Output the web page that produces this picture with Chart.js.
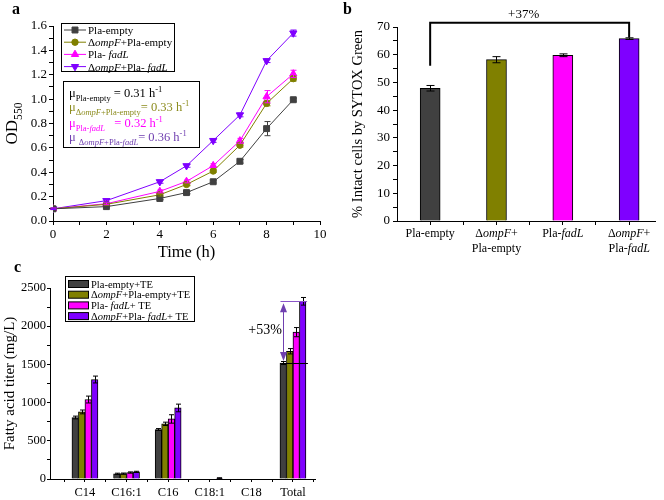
<!DOCTYPE html>
<html>
<head>
<meta charset="utf-8">
<script src="https://cdn.jsdelivr.net/npm/chart.js@4.4.0/dist/chart.umd.min.js"></script>
<style>
  body { margin: 0; background: #fff; }
  #wrap { position: relative; width: 664px; height: 500px; overflow: hidden; }
  canvas { position: absolute; }
</style>
</head>
<body>
<div id="wrap">
  <canvas id="chartA" width="330" height="265" style="left:0;top:0"></canvas>
  <canvas id="chartB" width="334" height="258" style="left:330px;top:0"></canvas>
  <canvas id="chartC" width="400" height="242" style="left:0;top:258px"></canvas>
</div>
<script>
// ---- panel a: growth curves (OD550) ----
const timeH = [0, 2, 4, 5, 6, 7, 8, 9];
const odPlaEmpty  = [0.100, 0.118, 0.185, 0.233, 0.322, 0.490, 0.758, 0.995];
const odOmpfEmpty = [0.100, 0.137, 0.215, 0.300, 0.410, 0.622, 0.965, 1.168];
const odPlaFadl   = [0.100, 0.142, 0.243, 0.325, 0.455, 0.658, 1.020, 1.207];
const odOmpfFadl  = [0.100, 0.167, 0.322, 0.453, 0.660, 0.870, 1.315, 1.542];
const odErrPlaEmpty  = [0.006, 0.008, 0.010, 0.010, 0.010, 0.015, 0.058, 0.012];
const odErrOmpfEmpty = [0.006, 0.008, 0.010, 0.010, 0.012, 0.015, 0.020, 0.020];
const odErrPlaFadl   = [0.006, 0.008, 0.012, 0.012, 0.015, 0.020, 0.050, 0.030];
const odErrOmpfFadl  = [0.006, 0.010, 0.012, 0.012, 0.015, 0.015, 0.015, 0.025];
const growthRates = ['0.31', '0.33', '0.32', '0.36'];

// ---- panel b: SYTOX Green ----
const intactPct = [47.9, 58.2, 59.8, 65.8];
const intactErr = [1.0, 1.1, 0.5, 0.3];
const increaseB = '+37%';

// ---- panel c: fatty acid titers ----
const acids = ['C14', 'C16:1', 'C16', 'C18:1', 'C18', 'Total'];
const titerPlaEmpty  = [805, 68, 648, 0, 0, 1518];
const titerOmpfEmpty = [878, 70, 722, 0, 0, 1672];
const titerPlaFadl   = [1040, 85, 786, 0, 0, 1922];
const titerOmpfFadl  = [1302, 93, 930, 12, 0, 2326];
const titerErrPlaEmpty  = [18, 8, 12, 0, 0, 20];
const titerErrOmpfEmpty = [25, 8, 22, 0, 0, 35];
const titerErrPlaFadl   = [45, 8, 55, 0, 0, 60];
const titerErrOmpfFadl  = [45, 8, 50, 4, 0, 50];
const increaseC = '+53%';

const SERIF = '"Liberation Serif", "Times New Roman", serif';
const GRAY = '#404040', OLIVE = '#808000', MAGENTA = '#ff00ff', VIOLET = '#7f00ff';

Chart.defaults.font.family = SERIF;
Chart.defaults.font.weight = 'normal';
Chart.defaults.color = '#000';

// rich text: segments {t, it, sub, sup, c}
function segFont(s, size) {
  const sz = (s.sub || s.sup) ? size * 0.68 : size;
  return (s.it ? 'italic ' : '') + (s.b ? 'bold ' : '') + sz + 'px ' + SERIF;
}
function richWidth(ctx, segs, size) {
  let w = 0;
  segs.forEach(s => { ctx.font = segFont(s, size); w += ctx.measureText(s.t).width; });
  return w;
}
function drawRich(ctx, segs, x, y, size, color, align) {
  ctx.save();
  ctx.textBaseline = 'alphabetic';
  ctx.textAlign = 'left';
  if (align === 'center') x -= richWidth(ctx, segs, size) / 2;
  segs.forEach(s => {
    ctx.font = segFont(s, size);
    ctx.fillStyle = s.c || color;
    const dy = s.sub ? size * 0.3 : s.sup ? -size * 0.38 : 0;
    ctx.fillText(s.t, x, y + dy);
    x += ctx.measureText(s.t).width;
  });
  ctx.restore();
}
function panelLetter(ctx, letter, x, y) {
  ctx.save();
  ctx.font = 'bold 16px ' + SERIF;
  ctx.fillStyle = '#000';
  ctx.textBaseline = 'alphabetic';
  ctx.fillText(letter, x, y);
  ctx.restore();
}
function frame(ctx, x, y, w, h) {
  ctx.save();
  ctx.strokeStyle = '#000';
  ctx.lineWidth = 1;
  ctx.strokeRect(x + 0.5, y + 0.5, w, h);
  ctx.restore();
}
function range(a, b, step) {
  const out = [];
  for (let v = a; v <= b + 1e-9; v += step) out.push(Math.round(v * 1000) / 1000);
  return out;
}

// error bars for any dataset with .errors
const errorBars = {
  id: 'errorBars',
  afterDatasetsDraw(chart) {
    const ctx = chart.ctx;
    const ys = chart.scales.y;
    chart.data.datasets.forEach((ds, i) => {
      if (!ds.errors) return;
      const meta = chart.getDatasetMeta(i);
      const cap = ds.errCap || 3;
      ctx.save();
      ctx.strokeStyle = ds.errColor || ds.borderColor;
      ctx.lineWidth = 1;
      meta.data.forEach((el, j) => {
        const e = ds.errors[j];
        if (!e) return;
        const v = ds.data[j].y;
        const x = Math.round(el.x) + 0.5;
        const yT = ys.getPixelForValue(v + e);
        const yB = ys.getPixelForValue(v - e);
        ctx.beginPath();
        ctx.moveTo(x, yT); ctx.lineTo(x, yB);
        ctx.moveTo(x - cap, yT); ctx.lineTo(x + cap, yT);
        ctx.moveTo(x - cap, yB); ctx.lineTo(x + cap, yB);
        ctx.stroke();
      });
      ctx.restore();
    });
  }
};

function axisCommon(size, tickLen, pad) {
  return {
    border: { display: true, color: '#000', width: 1 },
    grid: { display: true, drawOnChartArea: false, drawTicks: true, tickLength: tickLen, color: '#000', tickColor: '#000', offset: false },
    ticks: { color: '#000', font: { size: size, weight: 'normal' }, padding: pad, maxRotation: 0, autoSkip: false }
  };
}

// ================= panel a =================
const DELTA_OMPF = [{ t: 'Δ' }, { t: 'ompF', it: 1 }];
const seriesA = [
  { values: odPlaEmpty,  err: odErrPlaEmpty,  color: GRAY,    point: 'rect',     rot: 0,   r: 4.2,
    legend: [{ t: 'Pla-empty' }] },
  { values: odOmpfEmpty, err: odErrOmpfEmpty, color: OLIVE,   point: 'circle',   rot: 0,   r: 3.2,
    legend: DELTA_OMPF.concat([{ t: '+Pla-empty' }]) },
  { values: odPlaFadl,   err: odErrPlaFadl,   color: MAGENTA, point: 'triangle', rot: 0,   r: 4.2,
    legend: [{ t: 'Pla- ' }, { t: 'fadL', it: 1 }] },
  { values: odOmpfFadl,  err: odErrOmpfFadl,  color: VIOLET,  point: 'triangle', rot: 180, r: 4.2,
    legend: DELTA_OMPF.concat([{ t: '+Pla- ' }, { t: 'fadL', it: 1 }]) }
];
const rateRows = [
  { color: '#000', segs: [{ t: 'μ' }, { t: 'Pla-empty', sub: 1 }, { t: ' = ' + growthRates[0] + ' h' }, { t: '-1', sup: 1 }] },
  { color: '#8c8c1e', segs: [{ t: 'μ' }, { t: 'Δ', sub: 1 }, { t: 'ompF', sub: 1, it: 1 }, { t: '+Pla-empty', sub: 1 }, { t: '= ' + growthRates[1] + ' h' }, { t: '-1', sup: 1 }] },
  { color: MAGENTA, segs: [{ t: 'μ' }, { t: 'Pla-', sub: 1 }, { t: 'fadL', sub: 1, it: 1 }, { t: '   = ' + growthRates[2] + ' h' }, { t: '-1', sup: 1 }] },
  { color: '#7040b0', segs: [{ t: 'μ ' }, { t: 'Δ', sub: 1 }, { t: 'ompF', sub: 1, it: 1 }, { t: '+Pla-', sub: 1 }, { t: 'fadL', sub: 1, it: 1 }, { t: '= ' + growthRates[3] + ' h' }, { t: '-1', sup: 1 }] }
];

const panelA = {
  id: 'panelA',
  afterDraw(chart) {
    const ctx = chart.ctx;
    const area = chart.chartArea;
    panelLetter(ctx, 'a', 12, 14);
    // y title with subscript
    ctx.save();
    ctx.translate(11, (area.top + area.bottom) / 2);
    ctx.rotate(-Math.PI / 2);
    drawRich(ctx, [{ t: 'OD' }, { t: '550', sub: 1 }], 0, 6, 17, '#000', 'center');
    ctx.restore();
    // legend
    ctx.save();
    ctx.fillStyle = '#fff';
    ctx.fillRect(61, 23, 113, 48);
    ctx.restore();
    frame(ctx, 61, 23, 113, 48);
    seriesA.forEach((s, i) => {
      const y = 30 + i * 12.2;
      ctx.save();
      ctx.strokeStyle = s.color;
      ctx.lineWidth = 1;
      ctx.beginPath();
      ctx.moveTo(64, y); ctx.lineTo(86, y);
      ctx.stroke();
      ctx.fillStyle = s.color;
      Chart.helpers.drawPoint(ctx, { pointStyle: s.point, rotation: s.rot, radius: s.r, borderWidth: 1 }, 75, y);
      ctx.restore();
      drawRich(ctx, s.legend, 88, y + 4, 11, '#000');
    });
    // growth rate box
    frame(ctx, 63, 81, 136, 66);
    const rowY = [97, 111, 127, 141];
    rateRows.forEach((r, i) => drawRich(ctx, r.segs, 69, rowY[i], 12.5, r.color));
  }
};

new Chart(document.getElementById('chartA'), {
  type: 'line',
  data: {
    datasets: seriesA.map(s => ({
      data: timeH.map((t, i) => ({ x: t, y: s.values[i] })),
      borderColor: s.color,
      backgroundColor: s.color,
      borderWidth: 1,
      pointStyle: s.point,
      pointRotation: s.rot,
      pointRadius: s.r,
      pointBorderWidth: 1,
      pointBackgroundColor: s.color,
      pointBorderColor: s.color,
      tension: 0,
      errors: s.err,
      errCap: 3
    }))
  },
  options: {
    responsive: false,
    animation: false,
    layout: { padding: { top: 26, right: 10, left: 0, bottom: 0 } },
    plugins: { legend: { display: false }, tooltip: { enabled: false } },
    scales: {
      x: Object.assign(axisCommon(13, 4, 2), {
        type: 'linear', min: 0, max: 10,
        afterBuildTicks: sc => { sc.ticks = range(0, 10, 1).map(v => ({ value: v })); },
        afterFit: sc => { sc.height = 44; },
        title: { display: true, text: 'Time (h)', font: { size: 16.5, weight: 'normal' }, padding: { top: 0, bottom: 2 } }
      }),
      y: Object.assign(axisCommon(13, 4, 2), {
        min: 0, max: 1.6,
        afterBuildTicks: sc => { sc.ticks = range(0, 1.6, 0.1).map(v => ({ value: v })); },
        afterFit: sc => { sc.width = 53; }
      })
    }
  },
  plugins: [errorBars, panelA]
});
// tick label callbacks (majors only)
Chart.getChart('chartA').options.scales.x.ticks.callback = v => (Math.round(v) % 2 === 0 ? String(v) : '');
Chart.getChart('chartA').options.scales.y.ticks.callback = v => (Math.round(v * 10) % 2 === 0 ? v.toFixed(1) : '');
Chart.getChart('chartA').update();

// ================= panel b =================
const strainLabelsB = [
  [[{ t: 'Pla-empty' }]],
  [DELTA_OMPF.concat([{ t: '+' }]), [{ t: 'Pla-empty' }]],
  [[{ t: 'Pla-' }, { t: 'fadL', it: 1 }]],
  [DELTA_OMPF.concat([{ t: '+' }]), [{ t: 'Pla-' }, { t: 'fadL', it: 1 }]]
];
const barColorsB = [GRAY, OLIVE, MAGENTA, VIOLET];
const bracketB = { from: 1, to: 4, level: 71.5, leftEnd: 56, rightEnd: 66.2, textAt: 75 };

const panelB = {
  id: 'panelB',
  afterDraw(chart) {
    const ctx = chart.ctx;
    const xs = chart.scales.x, ys = chart.scales.y;
    panelLetter(ctx, 'b', 13, 14);
    // bracket
    const x1 = xs.getPixelForValue(bracketB.from), x2 = xs.getPixelForValue(bracketB.to);
    const yl = ys.getPixelForValue(bracketB.level);
    ctx.save();
    ctx.strokeStyle = '#000';
    ctx.lineWidth = 2;
    ctx.beginPath();
    ctx.moveTo(x1, ys.getPixelForValue(bracketB.leftEnd));
    ctx.lineTo(x1, yl);
    ctx.lineTo(x2, yl);
    ctx.lineTo(x2, ys.getPixelForValue(bracketB.rightEnd));
    ctx.stroke();
    ctx.restore();
    drawRich(ctx, [{ t: increaseB }], (x1 + x2) / 2 - 6, ys.getPixelForValue(bracketB.textAt) + 5, 13, '#000', 'center');
    // category labels
    strainLabelsB.forEach((lines, i) => {
      const x = xs.getPixelForValue(i + 1);
      lines.forEach((segs, k) => drawRich(ctx, segs, x, 237 + k * 14.5, 12, '#000', 'center'));
    });
  }
};

new Chart(document.getElementById('chartB'), {
  type: 'bar',
  data: {
    datasets: [{
      data: intactPct.map((v, i) => ({ x: i + 1, y: v })),
      backgroundColor: barColorsB,
      borderColor: '#000',
      borderWidth: 1,
      barThickness: 20,
      errors: intactErr,
      errColor: '#000',
      errCap: 4
    }]
  },
  options: {
    responsive: false,
    animation: false,
    layout: { padding: { top: 27, right: 9, left: 0, bottom: 0 } },
    plugins: { legend: { display: false }, tooltip: { enabled: false } },
    scales: {
      x: Object.assign(axisCommon(12, 4, 2), {
        type: 'linear', min: 0.5, max: 4.39, offset: false,
        afterBuildTicks: sc => { sc.ticks = range(1, 4, 0.5).map(v => ({ value: v })); },
        afterFit: sc => { sc.height = 37; }
      }),
      y: Object.assign(axisCommon(13, 4, 3), {
        min: 0, max: 70,
        afterBuildTicks: sc => { sc.ticks = range(0, 70, 5).map(v => ({ value: v })); },
        afterFit: sc => { sc.width = 67; },
        title: { display: true, text: '% Intact cells by SYTOX Green', font: { size: 14.5, weight: 'normal' }, padding: { top: 19, bottom: 0 } }
      })
    }
  },
  plugins: [errorBars, panelB]
});
Chart.getChart('chartB').options.scales.x.ticks.callback = () => '';
Chart.getChart('chartB').options.scales.y.ticks.callback = v => (v % 10 === 0 ? String(v) : '');
Chart.getChart('chartB').update();

// ================= panel c =================
const seriesC = [
  { values: titerPlaEmpty,  err: titerErrPlaEmpty,  color: GRAY,
    legend: [{ t: 'Pla-empty+TE' }] },
  { values: titerOmpfEmpty, err: titerErrOmpfEmpty, color: OLIVE,
    legend: DELTA_OMPF.concat([{ t: '+Pla-empty+TE' }]) },
  { values: titerPlaFadl,   err: titerErrPlaFadl,   color: MAGENTA,
    legend: [{ t: 'Pla- ' }, { t: 'fadL', it: 1 }, { t: '+ TE' }] },
  { values: titerOmpfFadl,  err: titerErrOmpfFadl,  color: VIOLET,
    legend: DELTA_OMPF.concat([{ t: '+Pla- ' }, { t: 'fadL', it: 1 }, { t: '+ TE' }]) }
];
// arrow annotation on "Total" (data units)
const arrowC = { x: 5.77, top: 2326, bottom: 1518, topLine: [5.70, 6.34], bottomLine: [5.74, 6.36], textX: 5.33, textY: 1960 };

const panelC = {
  id: 'panelC',
  afterDraw(chart) {
    const ctx = chart.ctx;
    const xs = chart.scales.x, ys = chart.scales.y;
    panelLetter(ctx, 'c', 14, 14);
    // legend
    frame(ctx, 65, 18, 129, 45);
    seriesC.forEach((s, i) => {
      const y = 26 + i * 10.7;
      ctx.save();
      ctx.fillStyle = s.color;
      ctx.fillRect(68, y - 3.5, 20, 7);
      ctx.strokeStyle = '#000';
      ctx.strokeRect(68.5, y - 3.5, 20, 7);
      ctx.restore();
      drawRich(ctx, s.legend, 91, y + 3.5, 10.5, '#000');
    });
    // +53% annotation
    const yT = ys.getPixelForValue(arrowC.top), yB = ys.getPixelForValue(arrowC.bottom);
    const ax = Math.round(xs.getPixelForValue(arrowC.x)) + 0.5;
    ctx.save();
    ctx.lineWidth = 1;
    ctx.strokeStyle = '#8a55c8';
    ctx.beginPath();
    ctx.moveTo(xs.getPixelForValue(arrowC.topLine[0]), Math.round(yT) + 0.5);
    ctx.lineTo(xs.getPixelForValue(arrowC.topLine[1]), Math.round(yT) + 0.5);
    ctx.stroke();
    ctx.strokeStyle = '#7040b0';
    ctx.beginPath();
    ctx.moveTo(ax, yT + 4); ctx.lineTo(ax, yB - 4);
    ctx.stroke();
    ctx.fillStyle = '#7040b0';
    ctx.beginPath();
    ctx.moveTo(ax, yT + 2); ctx.lineTo(ax - 3.5, yT + 11); ctx.lineTo(ax + 3.5, yT + 11); ctx.closePath();
    ctx.moveTo(ax, yB - 2); ctx.lineTo(ax - 3.5, yB - 11); ctx.lineTo(ax + 3.5, yB - 11); ctx.closePath();
    ctx.fill();
    ctx.strokeStyle = '#000';
    ctx.beginPath();
    ctx.moveTo(xs.getPixelForValue(arrowC.bottomLine[0]), Math.round(yB) + 0.5);
    ctx.lineTo(xs.getPixelForValue(arrowC.bottomLine[1]), Math.round(yB) + 0.5);
    ctx.stroke();
    ctx.restore();
    drawRich(ctx, [{ t: increaseC }], xs.getPixelForValue(arrowC.textX), ys.getPixelForValue(arrowC.textY) + 5, 14, '#000', 'center');
  }
};

new Chart(document.getElementById('chartC'), {
  type: 'bar',
  data: {
    datasets: seriesC.map(s => ({
      data: s.values.map((v, i) => ({ x: i + 1, y: v })),
      backgroundColor: s.color,
      borderColor: '#000',
      borderWidth: 1,
      barThickness: 6.5,
      errors: s.err,
      errColor: '#000',
      errCap: 2.5
    }))
  },
  options: {
    responsive: false,
    animation: false,
    layout: { padding: { top: 30, right: 85, left: 0, bottom: 0 } },
    plugins: { legend: { display: false }, tooltip: { enabled: false } },
    scales: {
      x: Object.assign(axisCommon(12.5, 3, 3), {
        type: 'linear', min: 0.16, max: 6.53, offset: false,
        afterBuildTicks: sc => { sc.ticks = range(0.5, 6.5, 0.5).map(v => ({ value: v })); },
        afterFit: sc => { sc.height = 21; }
      }),
      y: Object.assign(axisCommon(12.5, 3, 1), {
        min: 0, max: 2500,
        afterBuildTicks: sc => { sc.ticks = range(0, 2500, 250).map(v => ({ value: v })); },
        afterFit: sc => { sc.width = 50; },
        title: { display: true, text: 'Fatty acid titer (mg/L)', font: { size: 15, weight: 'normal' }, padding: { top: 1, bottom: 0 } }
      })
    }
  },
  plugins: [errorBars, panelC]
});
Chart.getChart('chartC').options.scales.x.ticks.callback = v => (Number.isInteger(v) ? acids[v - 1] : '');
Chart.getChart('chartC').options.scales.y.ticks.callback = v => (v % 500 === 0 ? String(v) : '');
Chart.getChart('chartC').update();
</script>
</body>
</html>
